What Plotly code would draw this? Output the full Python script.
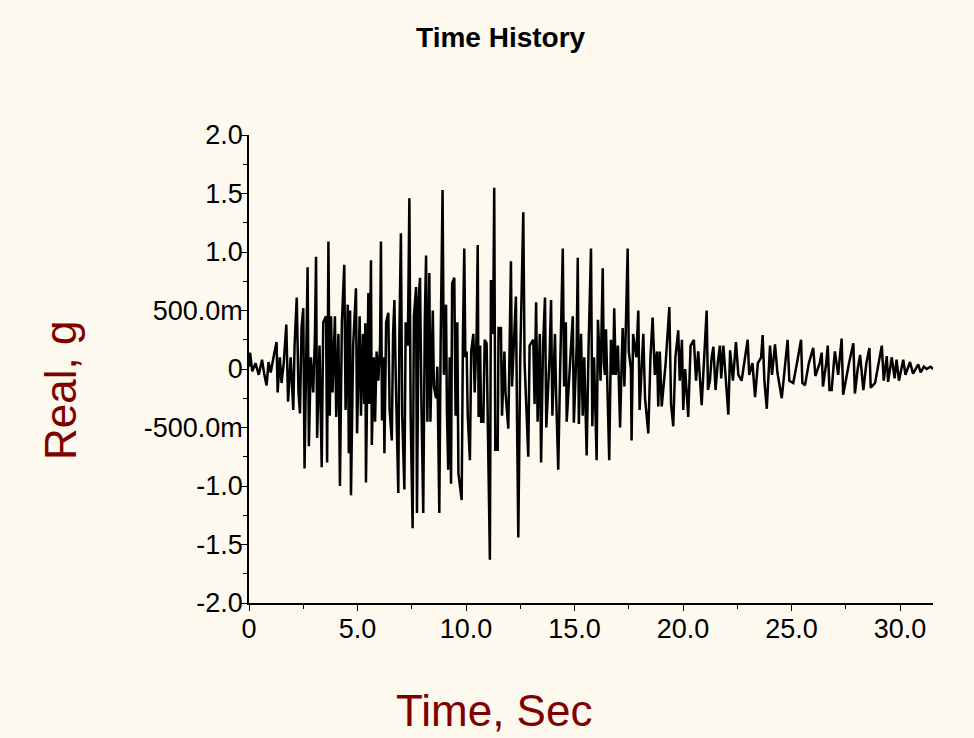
import plotly.graph_objects as go

# Time (s) and acceleration (g) (peaks/troughs)
time_s = [
    0.0, 0.05, 0.15, 0.3, 0.45, 0.6, 0.7, 0.81, 0.9, 1.0, 1.15, 1.27, 1.32, 1.42, 1.5, 1.6,
    1.72, 1.8, 1.92, 2.04, 2.1, 2.2, 2.28, 2.35, 2.42, 2.5, 2.56, 2.65, 2.7, 2.76, 2.85, 2.96,
    3.04, 3.09, 3.14, 3.25, 3.35, 3.42, 3.55, 3.6, 3.66, 3.72, 3.78, 3.85, 3.96, 4.02, 4.12, 4.19,
    4.28, 4.39, 4.45, 4.55, 4.6, 4.66, 4.7, 4.8, 4.93, 4.98, 5.1, 5.16, 5.25, 5.31,
    5.36, 5.39, 5.45, 5.5, 5.55, 5.62, 5.66, 5.75, 5.81, 5.88, 5.96, 6.04, 6.08, 6.13, 6.2, 6.24,
    6.32, 6.42, 6.48, 6.58, 6.64, 6.7, 6.76, 6.88, 6.93, 7.0, 7.06, 7.16, 7.22, 7.32, 7.39, 7.45,
    7.54, 7.6, 7.7, 7.74, 7.82, 7.88, 7.95, 8.03, 8.1, 8.16, 8.22, 8.31, 8.36, 8.47, 8.52, 8.62,
    8.68, 8.77, 8.83, 8.92, 8.98, 9.08, 9.12, 9.18, 9.25, 9.31, 9.36, 9.46, 9.52, 9.6, 9.65, 9.8,
    9.86, 9.92, 9.97, 10.03, 10.08, 10.18, 10.24, 10.34, 10.4, 10.49, 10.54, 10.58,
    10.65, 10.7, 10.8, 10.86, 10.95, 11.0, 11.1, 11.15, 11.25, 11.3, 11.35, 11.46, 11.5, 11.61,
    11.66, 11.77, 11.82, 11.95, 12.02, 12.07, 12.12, 12.3, 12.35, 12.41, 12.5, 12.64, 12.7, 12.87,
    12.93, 13.1, 13.16, 13.23, 13.3, 13.4, 13.46, 13.55, 13.64, 13.7, 13.85, 13.92, 13.98, 14.1,
    14.15, 14.25, 14.35, 14.46, 14.52, 14.6, 14.64, 14.8, 14.92, 14.97, 15.1, 15.15, 15.2, 15.3,
    15.38, 15.45, 15.56, 15.65, 15.76,
    15.82, 15.9, 16.02, 16.08, 16.2, 16.3, 16.35, 16.4, 16.45, 16.55, 16.6, 16.68, 16.78, 16.83,
    16.9, 17.0, 17.1, 17.18, 17.22, 17.3, 17.45, 17.5, 17.6, 17.63, 17.7, 17.85, 17.94, 18.0,
    18.1, 18.17, 18.25, 18.4, 18.5, 18.6, 18.7, 18.8, 18.86, 18.93, 19.02, 19.2, 19.37, 19.45,
    19.55, 19.65, 19.78, 19.85, 19.95, 20.01, 20.1, 20.24, 20.35, 20.5, 20.6, 20.7, 20.86, 21.0,
    21.09,
    21.15, 21.24, 21.32, 21.4, 21.5, 21.6, 21.7, 21.76, 21.86, 21.95, 22.09, 22.17, 22.3, 22.44,
    22.55, 22.7, 22.85, 22.98, 23.05, 23.2, 23.32, 23.45, 23.6, 23.67, 23.75, 23.86, 24.01, 24.1,
    24.24, 24.35, 24.55, 24.7, 24.82, 24.9, 25.08, 25.25, 25.44, 25.5, 25.62, 25.8, 26.0, 26.1,
    26.3, 26.39,
    26.45, 26.6, 26.67, 26.75, 26.85, 26.95, 27.0, 27.15, 27.31, 27.38, 27.51, 27.65, 27.85, 27.92,
    28.05, 28.16, 28.31, 28.45, 28.59, 28.65, 28.85, 29.0, 29.16, 29.25, 29.39, 29.45, 29.62, 29.75,
    29.84, 29.95, 30.15, 30.25, 30.46, 30.6, 30.84, 30.95, 31.1, 31.23, 31.4, 31.54,
]

accel_g = [
    0.02, 0.14, -0.02, 0.05, -0.05, 0.08, -0.04, -0.14, 0.06, -0.03, 0.12, 0.23, -0.2, 0.1, -0.12, 0.05,
    0.38, -0.28, 0.1, -0.35, 0.2, 0.61, -0.2, -0.38, 0.35, 0.52, -0.85, 0.3, 0.87, -0.66, 0.1, -0.2,
    0.3, 0.96, -0.59, 0.2, -0.84, 0.4, 0.45, -0.8, 1.09, -0.4, 0.45, -0.2, 0.45, -0.41, 0.3, -1.0,
    0.4, 0.89, -0.35, 0.55, -0.72, 0.5, -1.08, 0.2, 0.69, -0.55, 0.45, -0.4, 0.3, -0.3,
    0.39, -0.97, 0.2, 0.65, -0.3, 0.93, -0.65, 0.1, -0.45, 0.15, -0.1, 0.2, 1.09, -0.44, 0.1, -0.72,
    0.4, 0.48, -0.35, -0.61, 0.3, 0.59, -0.05, -1.06, 0.3, 1.16, -0.4, -1.03, 0.4, 0.2, 1.46, -0.4,
    -1.36, 0.45, 0.7, -1.23, 0.6, 0.78, -0.35, -1.23, 0.4, 0.97, -0.45, 0.82, -0.45, 0.5, -0.15, -0.25,
    0.02, -1.23, 0.2, 1.53, -0.05, 0.55, -0.35, -0.86, 0.1, -0.98, 0.73, 0.78, -0.4, 0.4, -0.89, -1.12,
    0.3, 1.03, 0.1, 0.15, -0.4, -0.78, 0.15, 0.3, -0.2, 0.3, 1.06, -0.41,
    0.2, -0.45, -0.45, 0.25, 0.22, -0.4, -1.63, 0.76, 0.3, 1.55, -0.69, -0.69, 0.35, 0.35,
    -0.4, 0.15, -0.2, -0.51, 0.2, 0.92, -0.15, 0.62, -0.4, -1.44, 0.1, 1.34, 0.05, -0.75,
    0.2, 0.25, -0.3, 0.57, -0.45, 0.3, -0.8, 0.2, 0.61, -0.5, 0.1, 0.59, -0.4, 0.3,
    -0.2, -0.86, 0.1, 1.03, -0.15, 0.4, -0.45, 0.1, 0.45, -0.46, 0.2, 0.95, -0.47, 0.3,
    -0.4, 0.1, -0.74, 0.2, 1.03,
    -0.49, 0.1, -0.78, 0.42, -0.1, 0.86, 0.05, -0.05, 0.34, -0.3, -0.78, 0.25, -0.05, 0.52,
    -0.05, 0.2, -0.5, 0.1, 0.35, -0.15, 1.03, 0.15, 0.0, -0.61, 0.3, 0.1, 0.5, -0.35,
    0.1, 0.3, -0.25, -0.55, 0.1, 0.44, -0.05, 0.15, -0.32, 0.15, -0.32, 0.05, 0.53, -0.3,
    -0.49, 0.1, 0.33, -0.1, 0.25, -0.35, 0.0, -0.41, 0.2, 0.25, -0.1, 0.15, -0.31, 0.2,
    0.5,
    -0.18, -0.1, 0.1, 0.19, -0.18, 0.05, 0.2, -0.08, 0.2, -0.05, -0.39, 0.16, -0.1, 0.23,
    -0.05, -0.1, 0.1, 0.25, -0.05, 0.05, -0.24, 0.05, 0.1, 0.29, -0.1, -0.34, 0.2, -0.05,
    0.21, -0.03, -0.25, 0.05, 0.25, -0.1, -0.12, 0.05, 0.25, -0.12, -0.14, 0.05, 0.18, -0.06,
    0.05, 0.14,
    -0.15, 0.05, 0.2, -0.18, -0.18, 0.05, 0.15, -0.05, 0.26, -0.22, -0.08, 0.05, 0.22, -0.21,
    0.0, 0.12, -0.18, 0.05, 0.18, -0.16, -0.12, 0.05, 0.2, -0.1, 0.11, -0.11, 0.1, -0.08,
    0.08, -0.1, 0.08, -0.05, 0.06, -0.04, 0.04, -0.03, 0.02, 0.0, 0.02, 0.0,
]

x_tick_vals = [0, 5, 10, 15, 20, 25, 30]
x_tick_text = ["0", "5.0", "10.0", "15.0", "20.0", "25.0", "30.0"]
y_tick_vals = [-2.0, -1.5, -1.0, -0.5, 0.0, 0.5, 1.0, 1.5, 2.0]
y_tick_text = ["-2.0", "-1.5", "-1.0", "-500.0m", "0", "500.0m", "1.0", "1.5", "2.0"]

BG = "#FDF9EE"
TITLE_RED = "#800000"
FONT = "Liberation Sans, Arial, sans-serif"

fig = go.Figure()
fig.add_trace(go.Scatter(
    x=time_s, y=accel_g, mode="lines",
    line=dict(color="#000000", width=2.5),
    hoverinfo="x+y", showlegend=False,
))

fig.update_layout(
    width=974, height=738,
    paper_bgcolor=BG, plot_bgcolor=BG,
    margin=dict(l=249, r=41, t=135, b=135),
    font=dict(family=FONT, color="#000000", size=24),
    title=dict(text="<b>Time History</b>", x=0.514, xanchor="center",
               y=1 - 37 / 738, yanchor="middle",
               font=dict(family=FONT, size=28, color="#000000")),
    xaxis=dict(
        range=[0, 31.52], tickmode="array", tickvals=x_tick_vals, ticktext=x_tick_text,
        showgrid=False, zeroline=False, showline=True, linecolor="#000000", linewidth=1.5,
        ticks="outside", ticklen=6, tickcolor="#000000", tickwidth=1,
        minor=dict(dtick=2.5, ticks="outside", ticklen=4, tickcolor="#000000"),
        tickfont=dict(size=27), ticklabelstandoff=-5,
    ),
    yaxis=dict(
        range=[-2, 2], tickmode="array", tickvals=y_tick_vals, ticktext=y_tick_text,
        showgrid=False, zeroline=False, showline=True, linecolor="#000000", linewidth=1.5,
        ticks="outside", ticklen=6, tickcolor="#000000", tickwidth=1,
        minor=dict(dtick=0.25, ticks="outside", ticklen=4, tickcolor="#000000"),
        tickfont=dict(size=27), ticklabelstandoff=-7,
    ),
    shapes=[dict(type="line", xref="paper", yref="y", x0=0, x1=1, y0=2, y1=2,
                 line=dict(color="#FFFFFF", width=1.5), layer="below")],
    annotations=[
        dict(text="Time, Sec", xref="paper", yref="paper", x=(494 - 249) / 684,
             y=-(710 - 603) / 468, xanchor="center", yanchor="middle", showarrow=False,
             font=dict(family=FONT, size=44, color=TITLE_RED)),
        dict(text="Real, g", xref="paper", yref="paper", x=-(249 - 60) / 684,
             y=(603 - 390) / 468, xanchor="center", yanchor="middle", showarrow=False,
             textangle=-90, font=dict(family=FONT, size=44, color=TITLE_RED)),
    ],
)

fig.write_html("out.html", config={"displayModeBar": False},
               post_script="document.body.style.margin='0';document.body.style.overflow='hidden';")
